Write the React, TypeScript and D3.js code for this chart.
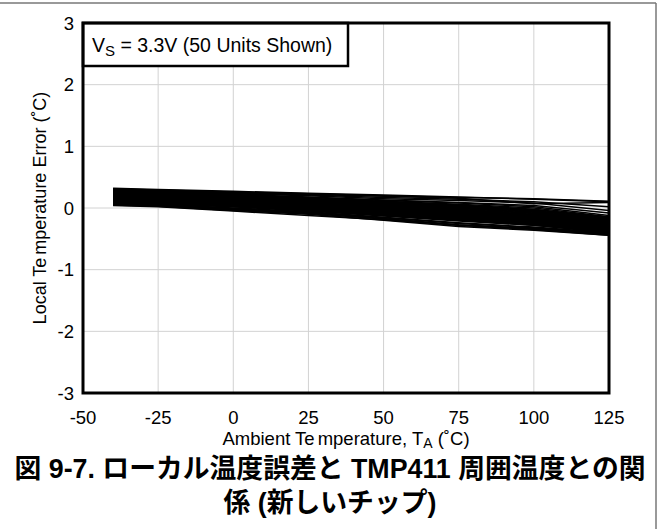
import React from "react";
import * as d3 from "d3";

const temps = [-40, -25, 0, 25, 50, 75, 100, 125];
const xTicks = [-50, -25, 0, 25, 50, 75, 100, 125];
const yTicks = [-3, -2, -1, 0, 1, 2, 3];

const units: number[][] = [
  [0.32, 0.30, 0.27, 0.24, 0.21, 0.18, 0.14, 0.10],
  [0.31, 0.29, 0.26, 0.23, 0.20, 0.17, 0.15, 0.11],
  [0.30, 0.28, 0.25, 0.22, 0.19, 0.16, 0.07, 0.09],
  [0.30, 0.27, 0.24, 0.21, 0.17, 0.14, 0.10, 0.02],
  [0.29, 0.27, 0.23, 0.20, 0.15, 0.12, 0.08, -0.04],
  [0.29, 0.26, 0.22, 0.18, 0.13, 0.09, 0.04, -0.08],
  [0.28, 0.25, 0.21, 0.17, 0.12, 0.08, 0.02, -0.12],
  [0.28, 0.25, 0.20, 0.16, 0.11, 0.06, 0.00, -0.14],
  [0.27, 0.24, 0.20, 0.15, 0.10, 0.05, -0.02, -0.15],
  [0.27, 0.24, 0.19, 0.14, 0.09, 0.04, -0.03, -0.16],
  [0.26, 0.23, 0.18, 0.14, 0.08, 0.03, -0.04, -0.17],
  [0.26, 0.23, 0.18, 0.13, 0.08, 0.02, -0.05, -0.18],
  [0.25, 0.22, 0.17, 0.12, 0.07, 0.01, -0.06, -0.19],
  [0.25, 0.22, 0.17, 0.12, 0.06, 0.00, -0.07, -0.20],
  [0.24, 0.21, 0.16, 0.11, 0.05, -0.01, -0.08, -0.20],
  [0.24, 0.21, 0.16, 0.10, 0.05, -0.02, -0.09, -0.21],
  [0.23, 0.20, 0.15, 0.10, 0.04, -0.03, -0.10, -0.22],
  [0.23, 0.20, 0.15, 0.09, 0.03, -0.04, -0.11, -0.22],
  [0.22, 0.19, 0.14, 0.09, 0.03, -0.04, -0.12, -0.23],
  [0.22, 0.19, 0.14, 0.08, 0.02, -0.05, -0.12, -0.24],
  [0.21, 0.18, 0.13, 0.08, 0.01, -0.06, -0.13, -0.24],
  [0.21, 0.18, 0.13, 0.07, 0.01, -0.06, -0.14, -0.25],
  [0.20, 0.17, 0.12, 0.07, 0.00, -0.07, -0.14, -0.26],
  [0.20, 0.17, 0.12, 0.06, 0.00, -0.08, -0.15, -0.26],
  [0.19, 0.16, 0.11, 0.05, -0.01, -0.08, -0.16, -0.27],
  [0.19, 0.16, 0.11, 0.05, -0.02, -0.09, -0.16, -0.28],
  [0.18, 0.15, 0.10, 0.04, -0.02, -0.10, -0.17, -0.28],
  [0.18, 0.15, 0.10, 0.04, -0.03, -0.10, -0.18, -0.29],
  [0.17, 0.14, 0.09, 0.03, -0.04, -0.11, -0.18, -0.30],
  [0.17, 0.14, 0.09, 0.03, -0.04, -0.12, -0.19, -0.30],
  [0.16, 0.13, 0.08, 0.02, -0.05, -0.12, -0.20, -0.31],
  [0.16, 0.13, 0.08, 0.02, -0.05, -0.13, -0.20, -0.32],
  [0.15, 0.12, 0.07, 0.01, -0.06, -0.14, -0.21, -0.32],
  [0.15, 0.12, 0.07, 0.01, -0.07, -0.14, -0.22, -0.33],
  [0.14, 0.11, 0.06, 0.00, -0.07, -0.15, -0.22, -0.34],
  [0.14, 0.11, 0.06, 0.00, -0.08, -0.16, -0.23, -0.34],
  [0.13, 0.10, 0.05, -0.01, -0.08, -0.16, -0.24, -0.35],
  [0.13, 0.10, 0.05, -0.01, -0.09, -0.17, -0.24, -0.36],
  [0.12, 0.09, 0.04, -0.02, -0.10, -0.18, -0.25, -0.36],
  [0.12, 0.09, 0.04, -0.02, -0.10, -0.18, -0.26, -0.37],
  [0.11, 0.08, 0.03, -0.03, -0.11, -0.19, -0.26, -0.38],
  [0.11, 0.08, 0.03, -0.03, -0.11, -0.20, -0.27, -0.38],
  [0.10, 0.07, 0.02, -0.04, -0.12, -0.20, -0.28, -0.39],
  [0.10, 0.07, 0.02, -0.05, -0.13, -0.21, -0.28, -0.40],
  [0.09, 0.06, 0.00, -0.06, -0.15, -0.24, -0.31, -0.40],
  [0.08, 0.05, -0.01, -0.07, -0.16, -0.25, -0.32, -0.41],
  [0.07, 0.04, -0.02, -0.08, -0.17, -0.27, -0.33, -0.42],
  [0.06, 0.04, -0.03, -0.09, -0.18, -0.28, -0.34, -0.43],
  [0.05, 0.03, -0.04, -0.10, -0.20, -0.30, -0.36, -0.44],
  [0.04, 0.02, -0.05, -0.12, -0.19, -0.28, -0.35, -0.44],
];

const FONT = "'Liberation Sans', Arial, sans-serif";
const CJK = "'Liberation Sans', 'Noto Sans CJK JP', sans-serif";

export default function App() {
  const W = 660, H = 529;
  const L = 83, R = 609, T = 23, B = 393;
  const x = d3.scaleLinear().domain([-50, 125]).range([L, R]);
  const y = d3.scaleLinear().domain([-3, 3]).range([B, T]);
  const line = d3.line<number>().x((_, i) => x(temps[i])).y((d) => y(d));

  return (
    <svg width={W} height={H} style={{ position: "absolute", left: 0, top: 0, background: "#fff" }}>
      <rect x={0} y={0} width={W} height={H} fill="#fff" />
      {/* outer page frame */}
      <line x1={0} x2={656} y1={3} y2={3} stroke="#777" strokeWidth={1.5} />
      <line x1={656} x2={656} y1={3} y2={H} stroke="#777" strokeWidth={1.5} />

      {/* grid */}
      {xTicks.slice(1, -1).map((t) => (
        <line key={"gx" + t} x1={x(t)} x2={x(t)} y1={T} y2={B} stroke="#d2d2d2" strokeWidth={1} />
      ))}
      {yTicks.slice(1, -1).map((t) => (
        <line key={"gy" + t} x1={L} x2={R} y1={y(t)} y2={y(t)} stroke="#d2d2d2" strokeWidth={1} />
      ))}

      {/* data */}
      <g fill="none" stroke="#000" strokeWidth={1.5} strokeLinejoin="round">
        {units.map((s, i) => (
          <path key={i} d={line(s) || ""} />
        ))}
      </g>

      {/* legend box */}
      <rect x={L} y={T} width={348 - L} height={66 - T} fill="#fff" stroke="#000" strokeWidth={2.5} />
      <text x={92} y={52} fontFamily={FONT} fontSize={19.5} fill="#000">
        V<tspan fontSize={15} dy={4}>S</tspan>
        <tspan dy={-4}> = 3.3V (50 Units Shown)</tspan>
      </text>

      {/* plot frame */}
      <rect x={L} y={T} width={R - L} height={B - T} fill="none" stroke="#000" strokeWidth={3} />

      {/* y ticks */}
      {yTicks.map((t) => (
        <text key={"yt" + t} x={74} y={y(t) + 6.5} textAnchor="end" fontFamily={FONT} fontSize={18.5} fill="#000">
          {t}
        </text>
      ))}
      {/* x ticks */}
      {xTicks.map((t) => (
        <text key={"xt" + t} x={x(t)} y={424} textAnchor="middle" fontFamily={FONT} fontSize={18.5} fill="#000">
          {t}
        </text>
      ))}

      {/* axis titles */}
      <text x={346} y={445} textAnchor="middle" fontFamily={FONT} fontSize={18.5} fill="#000">
        Ambient Te<tspan dx={3}>mperature, T</tspan>
        <tspan fontSize={14} dy={3}>A</tspan>
        <tspan dy={-3}> (˚C)</tspan>
      </text>
      <text
        transform={`translate(46, ${y(0)}) rotate(-90)`}
        textAnchor="middle"
        fontFamily={FONT}
        fontSize={18}
        fill="#000"
      >
        Local Te<tspan dx={3}>mperature Error (˚C)</tspan>
      </text>

      {/* caption */}
      <text x={330} y={478} textAnchor="middle" fontFamily={CJK} fontWeight="bold" fontSize={26.8} fill="#000">
        図 9-7. ローカル温度誤差と TMP411 周囲温度との関
      </text>
      <text x={330} y={512} textAnchor="middle" fontFamily={CJK} fontWeight="bold" fontSize={26.8} fill="#000">
        係 (新しいチップ)
      </text>
    </svg>
  );
}
